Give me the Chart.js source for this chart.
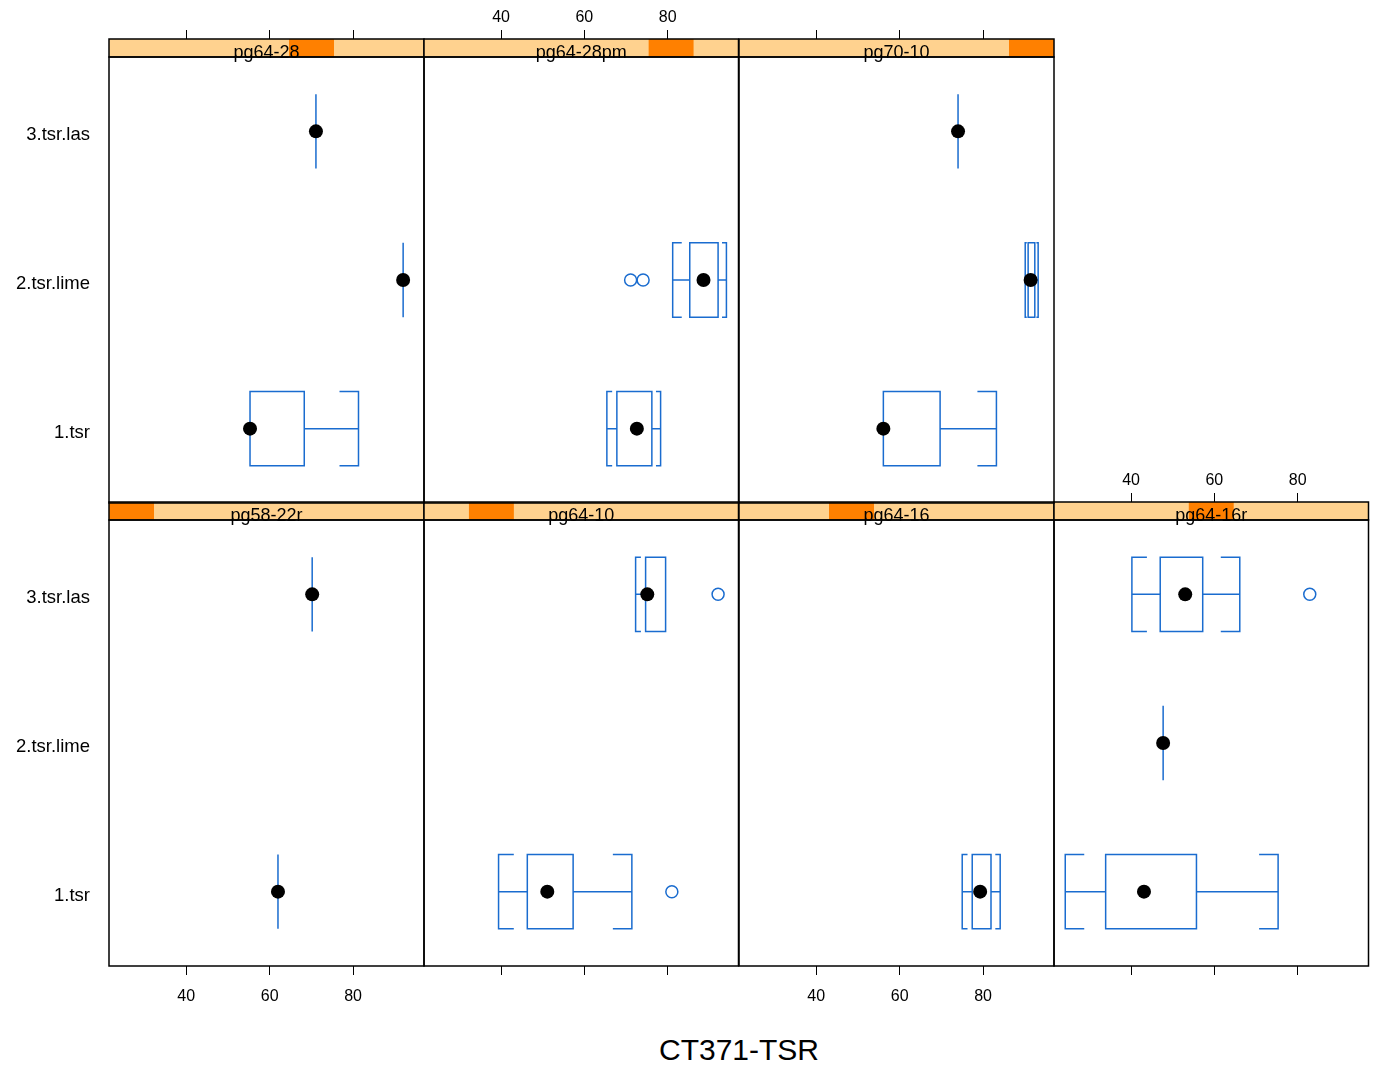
<!DOCTYPE html>
<html>
<head>
<meta charset="utf-8">
<script src="https://cdn.jsdelivr.net/npm/chart.js@4.4.0/dist/chart.umd.min.js"></script>
<style>
    body { margin: 0; background: #fff; }
    #quadro { position: relative; width: 1373px; height: 1074px; overflow: hidden; }
    #quadro canvas { position: absolute; }
    #titulo {
        position: absolute; left: 109px; width: 1260px; top: 1033px;
        line-height: 34px; text-align: center;
        font: 30px "Liberation Sans", Arial, sans-serif; color: #000;
    }
</style>
</head>
<body>
<div id="quadro"><div id="titulo">CT371-TSR</div></div>
<script>
const niveis = ["pg58-22r", "pg64-10", "pg64-16", "pg64-16r", "pg64-28", "pg64-28pm", "pg70-10"];
const grupos = ["1.tsr", "2.tsr.lime", "3.tsr.las"];
const marcasX = [40, 60, 80];

// [min, q1, mediana, q3, max] para 1.tsr, 2.tsr.lime, 3.tsr.las
const pg58_22r  = [[62.0, 62.0, 62.0, 62.0, 62.0], null, [70.2, 70.2, 70.2, 70.2, 70.2]];
const pg64_10   = [[39.4, 46.3, 51.1, 57.3, 71.4], null, [72.3, 74.7, 75.1, 79.5, 79.5]];
const pg64_16   = [[75.0, 77.4, 79.3, 81.9, 84.1], null, null];
const pg64_16r  = [[24.2, 33.9, 43.1, 55.7, 75.3], [47.7, 47.7, 47.7, 47.7, 47.7], [40.2, 47.0, 53.0, 57.2, 66.1]];
const pg64_28   = [[55.3, 55.3, 55.3, 68.3, 81.3], [92.0, 92.0, 92.0, 92.0, 92.0], [71.1, 71.1, 71.1, 71.1, 71.1]];
const pg64_28pm = [[65.4, 67.8, 72.6, 76.2, 78.3], [81.2, 85.3, 88.6, 92.1, 94.1], null];
const pg70_10   = [[56.1, 56.1, 56.1, 69.7, 83.2], [90.1, 90.8, 91.4, 92.4, 93.2], [74.0, 74.0, 74.0, 74.0, 74.0]];

// pontos fora dos bigodes
const fora_pg58_22r  = [[], [], []];
const fora_pg64_10   = [[81.0], [], [92.1]];
const fora_pg64_16   = [[], [], []];
const fora_pg64_16r  = [[], [], [82.9]];
const fora_pg64_28   = [[], [], []];
const fora_pg64_28pm = [[], [71.1, 74.1], []];
const fora_pg70_10   = [[], [], []];

const caixas = [pg58_22r, pg64_10, pg64_16, pg64_16r, pg64_28, pg64_28pm, pg70_10];
const foras = [fora_pg58_22r, fora_pg64_10, fora_pg64_16, fora_pg64_16r, fora_pg64_28, fora_pg64_28pm, fora_pg70_10];

const AZUL = "#1a6ccf";
const FAIXA_CLARA = "#ffd28f";
const FAIXA_ESCURA = "#ff8000";
const FONTE = '"Liberation Sans", Arial, sans-serif';

Chart.defaults.font.family = FONTE;
Chart.defaults.color = "#000";

const colX = [109, 424, 739, 1054];
const topoFaixa = [502, 39];   // linha de baixo, linha de cima
const ESQ = 109, TOPO = 39, FX = 18, ALT = 446, BAIXO = 60, LARG = 315;

function criarPainel(k) {
    const linha = k < 4 ? 0 : 1;
    const col = k % 4;

    const canvas = document.createElement("canvas");
    canvas.width = ESQ + LARG + 7;
    canvas.height = TOPO + FX + ALT + BAIXO;
    canvas.style.left = (colX[col] - ESQ) + "px";
    canvas.style.top = (topoFaixa[linha] - TOPO) + "px";
    document.getElementById("quadro").appendChild(canvas);

    const temBaixo = linha === 0;
    const rotBaixo = temBaixo && col % 2 === 0;
    const temTopo = linha === 1 || col === 3;
    const rotTopo = temTopo && col % 2 === 1;

    const medianas = [];
    caixas[k].forEach((s, i) => { if (s) medianas.push({ x: s[2], y: i + 1 }); });
    const pontos = [];
    foras[k].forEach((vals, i) => vals.forEach(v => pontos.push({ x: v, y: i + 1 })));

    const desenho = {
        id: "painel" + k,
        beforeDatasetsDraw(chart) {
            const { ctx, scales: { x, y } } = chart;
            ctx.save();
            ctx.strokeStyle = AZUL;
            ctx.lineWidth = 1.5;
            caixas[k].forEach((s, i) => {
                if (!s) return;
                const yc = y.getPixelForValue(i + 1);
                const h = Math.abs(y.getPixelForValue(i + 1.25) - yc);
                const [mn, q1, md, q3, mx] = s.map(v => x.getPixelForValue(v));
                ctx.beginPath();
                ctx.moveTo(q1, yc - h);
                ctx.lineTo(q3, yc - h);
                ctx.lineTo(q3, yc + h);
                ctx.lineTo(q1, yc + h);
                ctx.closePath();
                if (mn < q1 - 0.5) {
                    const c = Math.min((q1 - mn) * 0.53, 19);
                    ctx.moveTo(q1, yc); ctx.lineTo(mn, yc);
                    ctx.moveTo(mn + c, yc - h); ctx.lineTo(mn, yc - h);
                    ctx.lineTo(mn, yc + h); ctx.lineTo(mn + c, yc + h);
                }
                if (mx > q3 + 0.5) {
                    const c = Math.min((mx - q3) * 0.53, 19);
                    ctx.moveTo(q3, yc); ctx.lineTo(mx, yc);
                    ctx.moveTo(mx - c, yc - h); ctx.lineTo(mx, yc - h);
                    ctx.lineTo(mx, yc + h); ctx.lineTo(mx - c, yc + h);
                }
                ctx.stroke();
            });
            ctx.restore();
        },
        afterDraw(chart) {
            const { ctx, chartArea: a, scales: { faixa } } = chart;
            ctx.save();
            ctx.fillStyle = FAIXA_CLARA;
            ctx.fillRect(a.left, faixa.top, a.right - a.left, faixa.bottom - faixa.top);
            const x0 = faixa.getPixelForValue(k);
            const x1 = faixa.getPixelForValue(k + 1);
            ctx.fillStyle = FAIXA_ESCURA;
            ctx.fillRect(x0, faixa.top, x1 - x0, faixa.bottom - faixa.top);
            ctx.strokeStyle = "#000";
            ctx.lineWidth = 1.5;
            ctx.strokeRect(a.left, faixa.top, a.right - a.left, faixa.bottom - faixa.top);
            ctx.strokeRect(a.left, a.top, a.right - a.left, a.bottom - a.top);
            ctx.fillStyle = "#000";
            ctx.font = "18px " + FONTE;
            ctx.textAlign = "center";
            ctx.textBaseline = "alphabetic";
            ctx.fillText(niveis[k], (a.left + a.right) / 2, faixa.bottom + 1);
            ctx.restore();
        }
    };

    const eixoX = (posicao, peso, altura, mostra, rotulos, pad) => ({
        type: "linear",
        position: posicao,
        weight: peso,
        min: 21.5,
        max: 97,
        afterBuildTicks: s => { s.ticks = marcasX.map(v => ({ value: v })); },
        afterFit: s => { s.height = altura; },
        grid: { display: mostra, drawOnChartArea: false, drawTicks: true, tickLength: 9, color: "#000", lineWidth: 1 },
        border: { display: false },
        ticks: {
            display: rotulos,
            autoSkip: false,
            maxRotation: 0,
            padding: pad,
            color: "#000",
            font: { size: 16 }
        }
    });

    return new Chart(canvas, {
        type: "scatter",
        data: {
            datasets: [
                {
                    data: pontos,
                    pointRadius: 6,
                    pointBackgroundColor: "rgba(0,0,0,0)",
                    pointBorderColor: AZUL,
                    pointBorderWidth: 1.5
                },
                {
                    data: medianas,
                    pointRadius: 7,
                    pointBackgroundColor: "#000",
                    pointBorderColor: "#000",
                    pointBorderWidth: 0
                }
            ]
        },
        options: {
            responsive: false,
            animation: false,
            layout: { padding: { right: 4, left: 0, top: 0, bottom: 0 } },
            plugins: { legend: { display: false }, tooltip: { enabled: false } },
            scales: {
                x: eixoX("bottom", 0, BAIXO, temBaixo, rotBaixo, 12),
                faixa: {
                    type: "linear",
                    position: "top",
                    weight: 0,
                    min: 0,
                    max: niveis.length,
                    afterFit: s => { s.height = FX; },
                    grid: { display: false },
                    border: { display: false },
                    ticks: { display: false }
                },
                xTopo: eixoX("top", 1, TOPO, temTopo, rotTopo, 3),
                y: {
                    type: "linear",
                    position: "left",
                    min: 0.5,
                    max: 3.5,
                    afterBuildTicks: s => { s.ticks = grupos.map((g, i) => ({ value: i + 1 })); },
                    afterFit: s => { s.width = ESQ; },
                    grid: { display: false, drawTicks: false },
                    border: { display: false },
                    ticks: {
                        display: col === 0,
                        padding: 19,
                        labelOffset: 4,
                        font: { size: 18.5 },
                        color: "#000",
                        callback: v => grupos[v - 1]
                    }
                }
            }
        },
        plugins: [desenho]
    });
}

niveis.forEach((n, k) => criarPainel(k));
</script>
</body>
</html>
